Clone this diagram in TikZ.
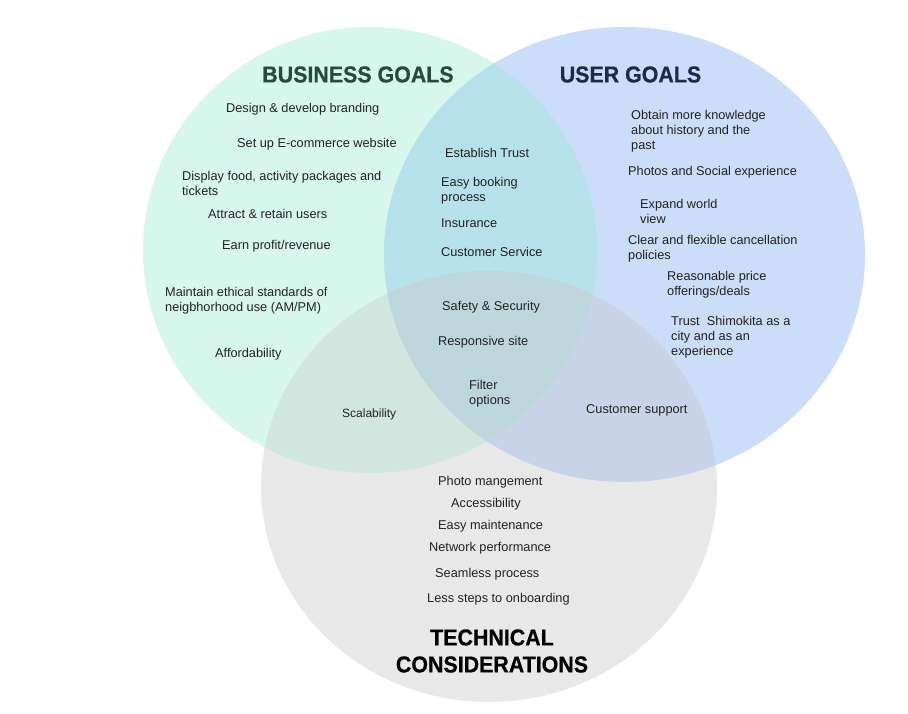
\documentclass[tikz,border=0pt]{standalone}
\usepackage{fontspec}
\setmainfont{Liberation Sans}
\newfontfamily\titlefont[FakeStretch=0.93,FakeBold=0.6]{Liberation Sans}
\definecolor{cB}{HTML}{D8F7EC}
\definecolor{cU}{HTML}{CBDDF8}
\definecolor{cT}{HTML}{E8E8E8}
\definecolor{cBU}{HTML}{B6E1EA}
\definecolor{cBT}{HTML}{D1E6DE}
\definecolor{cUT}{HTML}{C9D3E7}
\definecolor{cBUT}{HTML}{BDD6DC}
\definecolor{txtc}{HTML}{222222}
\definecolor{bgreen}{HTML}{264A3E}
\definecolor{unavy}{HTML}{1C2B4A}
\begin{document}
\begin{tikzpicture}[x=1pt,y=-1pt,
  txt/.style={anchor=west,inner sep=0pt,yshift=-1.5pt,align=left,text=txtc,font=\fontsize{12.75}{15}\selectfont},
  smalltxt/.style={txt,font=\fontsize{12}{14}\selectfont},
  ttl/.style={inner sep=0pt,align=center,font=\titlefont\bfseries\fontsize{23}{27}\selectfont}]
\useasboundingbox[fill=white] (0,0) rectangle (908,714);
\def\pB{(370,250) ellipse [x radius=227pt, y radius=223pt]}
\def\pU{(624.5,254.5) ellipse [x radius=240.5pt, y radius=227.5pt]}
\def\pT{(489,486.5) ellipse [x radius=228pt, y radius=215.5pt]}
% base circles
\fill[cB] \pB;
\fill[cU] \pU;
\fill[cT] \pT;
% pairwise overlaps
\begin{scope}\clip \pB; \fill[cBU] \pU; \end{scope}
\begin{scope}\clip \pB; \fill[cBT] \pT; \end{scope}
\begin{scope}\clip \pU; \fill[cUT] \pT; \end{scope}
\begin{scope}\clip \pB; \clip \pU; \fill[cBUT] \pT; \end{scope}
% titles
\node[ttl,text=bgreen] (tB) at (358,74.5) {BUSINESS GOALS};
\node[ttl,text=unavy] (tU) at (630.5,74.5) {USER GOALS};
\node[ttl,text=black] (tT) at (492,651) {TECHNICAL\\CONSIDERATIONS};
% business
\node[txt] (b1) at (226,108) {Design \& develop branding};
\node[txt] (b2) at (237,143) {Set up E-commerce website};
\node[txt] (b3) at (182,181.5) {Display food, activity packages and\\tickets};
\node[txt] (b4) at (208,212) {Attract \& retain users};
\node[txt] (b5) at (222,245) {Earn profit/revenue};
\node[txt] (b6) at (165,299.5) {Maintain ethical standards of\\neigbhorhood use (AM/PM)};
\node[txt] (b7) at (215,353) {Affordability};
\node[smalltxt] (bt1) at (342,413) {Scalability};
% business & user
\node[txt] (bu1) at (445,151) {Establish Trust};
\node[txt] (bu2) at (441,189.5) {Easy booking\\process};
\node[txt] (bu3) at (441,222) {Insurance};
\node[txt] (bu4) at (441,250) {Customer Service};
% all three
\node[txt] (a1) at (442,306) {Safety \& Security};
\node[txt] (a2) at (438,341) {Responsive site};
\node[txt] (a3) at (469,392.5) {Filter\\options};
% user & tech
\node[txt] (ut1) at (586,409) {Customer support};
% user
\node[txt] (u1) at (631,130) {Obtain more knowledge\\about history and the\\past};
\node[txt] (u2) at (628,171) {Photos and Social experience};
\node[txt] (u3) at (640,209.5) {Expand world\\view};
\node[txt] (u4) at (628,247.5) {Clear and flexible cancellation\\policies};
\node[txt] (u5) at (667,283.5) {Reasonable price\\offerings/deals};
\node[txt] (u6) at (671,336) {Trust\ \ Shimokita as a\\city and as an\\experience};
% tech
\node[txt] (t1) at (438,481) {Photo mangement};
\node[txt] (t2) at (451,503) {Accessibility};
\node[txt] (t3) at (438,525) {Easy maintenance};
\node[txt] (t4) at (429,547) {Network performance};
\node[txt] (t5) at (435,573) {Seamless process};
\node[txt] (t6) at (427,598) {Less steps to onboarding};
\end{tikzpicture}
\end{document}
